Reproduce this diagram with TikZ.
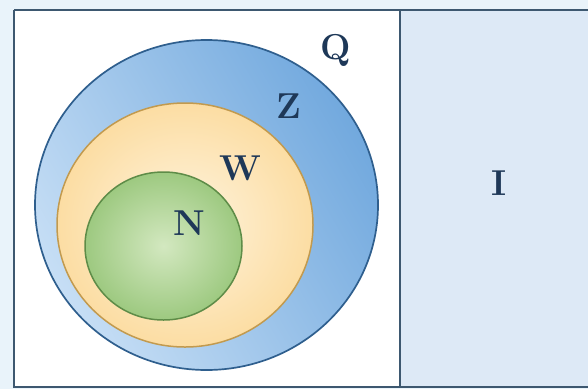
\documentclass[tikz,border=0pt]{standalone}
\usetikzlibrary{shapes.geometric}
\definecolor{bgout}{HTML}{E9F3FA}
\definecolor{panelR}{HTML}{DDE9F6}
\definecolor{frameC}{HTML}{3D5870}
\definecolor{blueA}{HTML}{72A9DE}
\definecolor{blueB}{HTML}{C6DEF5}
\definecolor{blueE}{HTML}{2F5F8E}
\definecolor{yelA}{HTML}{FEF4DF}
\definecolor{yelB}{HTML}{FCDDA3}
\definecolor{yelE}{HTML}{C29A4E}
\definecolor{grnA}{HTML}{D3E8C0}
\definecolor{grnB}{HTML}{9DC980}
\definecolor{grnE}{HTML}{5E8C48}
\definecolor{lbl}{HTML}{1E3858}
\tikzset{
  framebox/.style={draw=frameC, line width=2.8pt},
  setlabel/.style={text=lbl, font=\fontsize{36}{36}\selectfont\bfseries, inner sep=0pt},
}
\begin{document}
\begin{tikzpicture}[x=1pt,y=-1pt]
\useasboundingbox (0,0) rectangle (588,389);
\fill[bgout] (0,0) rectangle (588,389);
\fill[white] (14,10) rectangle (400,387);
\fill[panelR] (400,10) rectangle (600,387);
% blue set Q
\shade[shading=axis, top color=blueA, bottom color=blueB, shading angle=-60]
  (206.5,205) ellipse [x radius=171.5pt, y radius=165pt];
\draw[blueE, line width=1.7pt] (206.5,205) ellipse [x radius=171.5pt, y radius=165pt];
% yellow set Z
\shade[inner color=yelA, outer color=yelB]
  (185,225) ellipse [x radius=128pt, y radius=122pt];
\draw[yelE, line width=1.5pt] (185,225) ellipse [x radius=128pt, y radius=122pt];
% green set W
\shade[inner color=grnA, outer color=grnB]
  (163.5,246) ellipse [x radius=78.5pt, y radius=74pt];
\draw[grnE, line width=1.5pt] (163.5,246) ellipse [x radius=78.5pt, y radius=74pt];
% frame
\draw[framebox] (14,10) -- (600,10);
\draw[framebox] (14,10) -- (14,387) -- (600,387);
\draw[framebox] (400,10) -- (400,387);
% labels
\node[setlabel] (q) at (336,50) {Q};
\node[setlabel] (z) at (289,106) {Z};
\node[setlabel] (w) at (240,168) {W};
\node[setlabel] (n) at (189,223) {N};
\node[setlabel] (i) at (499,183) {I};
\end{tikzpicture}
\end{document}
